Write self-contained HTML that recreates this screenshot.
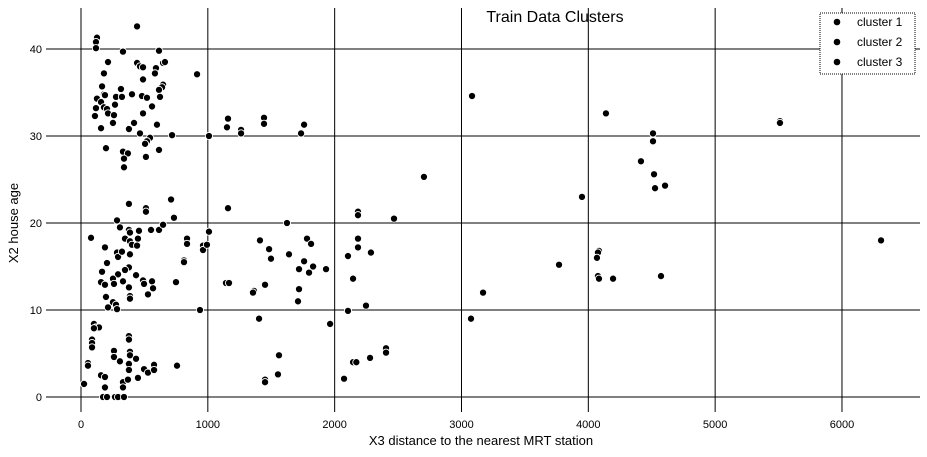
<!DOCTYPE html>
<html><head><meta charset="utf-8"><style>
body{margin:0;background:#fff;}
svg{display:block;font-family:"Liberation Sans","DejaVu Sans",sans-serif;}
</style></head><body>
<svg id="chart" width="927" height="457">
<text x="555" y="22" font-size="16" text-anchor="middle">Train Data Clusters</text>
<g id="grid"></g>
<g id="ticks"></g>
<g id="pts"></g>
<text x="481" y="445" font-size="13" text-anchor="middle">X3 distance to the nearest MRT station</text>
<text x="0" y="0" font-size="13" text-anchor="middle" transform="translate(18,223) rotate(-90)">X2 house age</text>
<g>
<rect x="820" y="13" width="95" height="61" fill="#fff" stroke="#000" stroke-dasharray="1,1"/>
<circle cx="837" cy="22" r="3.3"/>
<text x="857" y="26" font-size="12">cluster 1</text>
<circle cx="837" cy="42" r="3.3"/>
<text x="857" y="46" font-size="12">cluster 2</text>
<circle cx="837" cy="62" r="3.3"/>
<text x="857" y="66" font-size="12">cluster 3</text>
</g>
</svg>
<script>
const xTicks=[0,1000,2000,3000,4000,5000,6000];
const yTicks=[0,10,20,30,40];
const distX=[442,126,118,118,331,615,213,442,465,489,591,583,647,662,915,181,489,166,315,402,181,189,276,323,481,520,647,639,615,623,126,158,118,181,205,268,213,110,260,489,560,158,252,418,378,599,465,718,1009,1159,1151,1262,1262,1443,1443,1759,1735,544,520,505,197,331,370,339,339,512,615,378,512,710,1159,512,284,307,378,386,457,552,615,647,733,79,347,386,449,189,402,442,284,292,323,386,205,378,347,166,292,252,434,158,189,260,331,378,489,497,560,568,528,386,386,749,197,252,276,284,213,812,812,836,836,962,962,993,1009,938,1143,1167,1364,1356,1451,1411,1483,1498,1624,1640,1719,1711,1719,1759,1782,1814,1798,1830,1932,1404,1964,102,118,142,102,87,87,87,378,378,386,386,260,260,307,434,55,55,378,378,497,528,576,576,757,158,189,449,331,331,370,189,24,174,205,268,292,339,1561,1553,1451,1451,2704,2184,2184,2468,2184,2184,2105,2286,2145,2247,2105,2405,2405,2279,2145,2171,2074,3170,3075,3083,4139,4510,4510,4415,4518,4526,4605,3950,4084,4076,4068,3769,4076,4084,4195,4573,5511,5511,6308];
const ageY=[42.6,41.3,40.8,40.1,39.7,39.8,38.5,38.4,38.0,37.9,37.8,37.2,38.4,38.5,37.1,37.2,36.5,35.7,35.4,34.8,34.8,34.7,34.5,34.5,34.6,34.4,35.9,35.6,35.3,34.5,34.3,33.9,33.2,33.3,33.1,33.6,32.6,32.3,32.4,32.6,33.4,30.9,31.5,31.5,30.8,31.3,30.3,30.1,30.0,32.0,31.0,30.7,30.3,32.1,31.4,31.3,30.3,29.8,29.4,29.1,28.6,28.2,28.0,27.4,26.4,27.6,28.4,22.2,21.7,22.7,21.7,21.3,20.3,19.5,19.2,18.9,19.1,19.2,19.2,19.8,20.6,18.3,18.2,17.9,18.2,17.2,17.5,17.4,16.6,16.1,16.7,16.4,15.4,14.9,14.6,14.4,14.1,13.6,14.0,13.2,12.9,13.0,13.3,12.6,13.4,13.0,13.3,12.5,11.8,11.6,11.3,13.2,11.5,10.9,10.6,10.1,10.3,15.7,15.5,18.2,17.6,17.4,16.9,17.5,19.0,10.0,13.1,13.1,12.2,12.0,12.9,18.0,17.0,15.9,20.0,16.4,12.4,11.0,14.7,15.6,18.2,17.6,14.3,15.0,14.7,9.0,8.4,8.4,8.0,8.0,7.9,6.6,6.2,5.7,7.0,6.6,5.2,4.8,5.3,4.6,4.1,4.4,3.9,3.6,3.8,3.1,3.2,2.8,3.7,3.1,3.6,2.5,2.3,2.2,1.7,1.1,2.0,1.1,1.5,0,0,0,0,0,4.8,2.6,2.0,1.7,25.3,21.3,20.9,20.5,18.2,17.2,16.2,16.6,13.6,10.5,9.9,5.6,5.1,4.5,4.0,4.0,2.1,12.0,9.0,34.6,32.6,30.3,29.4,27.1,25.6,24.0,24.3,23.0,16.8,16.6,16.0,15.2,13.9,13.6,13.6,13.9,31.7,31.5,18.0];
const NS='http://www.w3.org/2000/svg';
function sx(v){return 81+v*0.12683;}
function sy(v){return 397-v*8.7;}
function mk(tag,attrs,parent){const e=document.createElementNS(NS,tag);for(const k in attrs)e.setAttribute(k,attrs[k]);parent.appendChild(e);return e;}
const grid=document.getElementById('grid'),ticks=document.getElementById('ticks'),pts=document.getElementById('pts');
xTicks.forEach(t=>{
  const l=mk('line',{x1:sx(t),x2:sx(t),y1:8,y2:412,stroke:'#000','stroke-width':1},grid);
  
  
  const tx=mk('text',{x:sx(t),y:428,'font-size':11,'text-anchor':'middle'},ticks);
  tx.textContent=t;
  
  
});
yTicks.forEach(t=>{
  const l=mk('line',{x1:46,x2:920,y1:sy(t),y2:sy(t),stroke:'#000','stroke-width':1},grid);
  
  
  const tx=mk('text',{x:42,y:sy(t)+4,'font-size':11,'text-anchor':'end'},ticks);
  tx.textContent=t;
  
  
});
distX.forEach((v,i)=>{
  const c=mk('circle',{cx:sx(v),cy:sy(ageY[i]),r:3.6,fill:'#000',stroke:'#fff','stroke-width':0.9},pts);
  
  
});
</script>
</body></html>
